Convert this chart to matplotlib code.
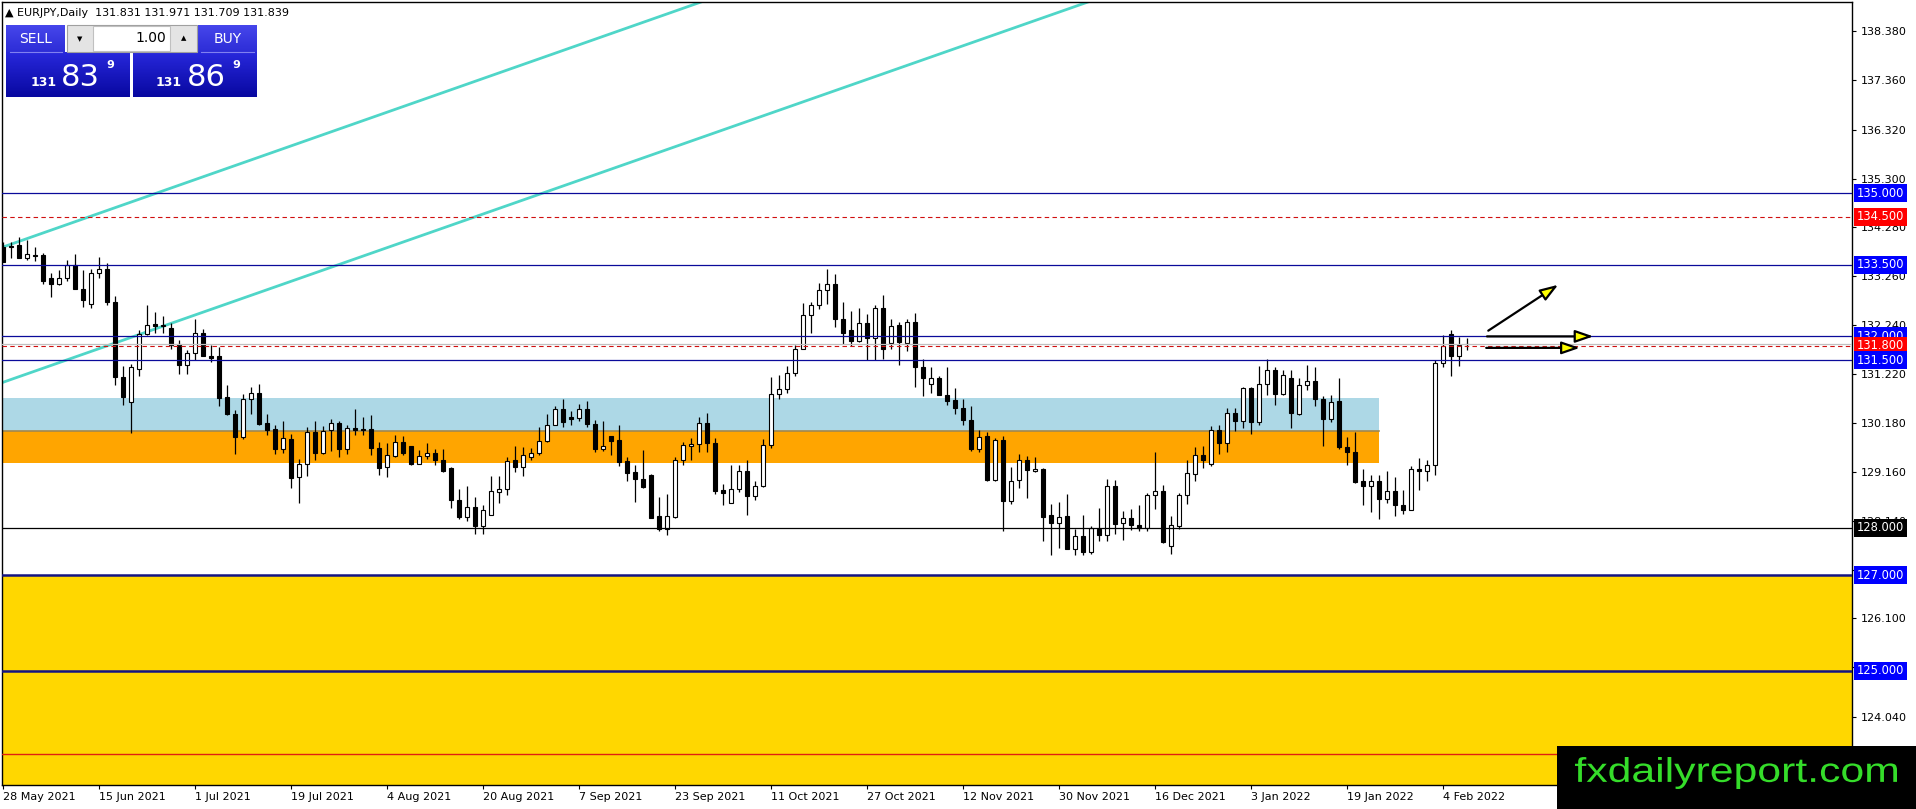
import numpy as np
import pandas as pd
import matplotlib
matplotlib.use("Agg")
import matplotlib.pyplot as plt
from matplotlib.patches import Rectangle, PathPatch
from matplotlib.textpath import TextPath
from matplotlib.font_manager import FontProperties
from matplotlib.transforms import Affine2D, blended_transform_factory

# EURJPY daily candles (28 May 2021 .. 9 Feb 2022)
opens = [133.87, 133.88, 133.92, 133.63, 133.71, 133.70, 133.23, 133.10, 133.23, 133.49,
         133.00, 132.68, 133.33, 133.42, 132.72, 131.15, 130.63, 131.32, 132.04, 132.25,
         132.22, 132.18, 131.85, 131.41, 131.66, 132.08, 131.58, 131.58, 130.73, 130.38,
         129.89, 130.70, 130.82, 130.19, 130.07, 129.65, 129.86, 129.06, 129.34, 130.01,
         129.57, 130.05, 130.19, 129.65, 130.08, 130.07, 130.07, 129.67, 129.27, 129.50,
         129.80, 129.70, 129.34, 129.50, 129.56, 129.42, 129.25, 128.57, 128.22, 128.44,
         128.03, 128.27, 128.74, 128.81, 129.41, 129.27, 129.48, 129.56, 129.81, 130.15,
         130.49, 130.31, 130.30, 130.49, 130.17, 129.64, 129.91, 129.83, 129.39, 129.16,
         129.01, 129.11, 128.24, 127.98, 128.22, 129.42, 129.71, 129.74, 130.19, 129.76,
         128.78, 128.52, 128.81, 129.18, 128.67, 128.87, 129.73, 130.80, 130.91, 131.24,
         131.74, 132.44, 132.65, 132.98, 133.10, 132.37, 132.13, 131.90, 132.29, 131.97,
         132.60, 131.87, 132.23, 131.87, 132.31, 131.35, 131.01, 131.12, 130.78, 130.66,
         130.51, 130.26, 129.65, 129.91, 129.00, 129.84, 128.55, 129.00, 129.42, 129.18,
         129.23, 128.26, 128.10, 128.24, 127.56, 127.82, 127.49, 127.98, 127.85, 128.86,
         128.10, 128.21, 128.06, 127.99, 128.69, 128.76, 127.61, 128.03, 128.69, 129.13,
         129.51, 129.34, 130.05, 129.76, 130.40, 130.23, 130.93, 130.21, 131.01, 131.29,
         130.80, 131.14, 130.38, 130.99, 131.07, 130.70, 130.28, 130.65, 129.69, 129.59,
         128.97, 128.86, 128.97, 128.60, 128.76, 128.48, 128.37, 129.23, 129.19, 129.30,
         131.45, 132.06, 131.60, 131.831]
highs = [133.97, 133.97, 134.09, 134.02, 133.88, 133.75, 133.33, 133.38, 133.59, 133.72,
         133.38, 133.40, 133.66, 133.54, 132.84, 131.39, 131.43, 132.13, 132.65, 132.52,
         132.43, 132.28, 131.92, 131.71, 132.37, 132.16, 131.81, 131.78, 130.98, 130.47,
         130.80, 130.94, 131.01, 130.37, 130.14, 130.22, 129.96, 129.43, 130.10, 130.23,
         130.12, 130.28, 130.22, 130.14, 130.49, 130.31, 130.36, 129.79, 129.76, 129.94,
         129.92, 129.71, 129.62, 129.76, 129.64, 129.64, 129.27, 128.80, 128.88, 128.64,
         128.47, 129.07, 129.07, 129.48, 129.71, 129.69, 129.67, 130.10, 130.38, 130.54,
         130.68, 130.43, 130.59, 130.64, 130.26, 130.22, 129.92, 130.14, 129.48, 129.30,
         129.62, 129.12, 128.64, 128.70, 129.48, 129.79, 129.87, 130.31, 130.40, 129.88,
         128.92, 129.32, 129.30, 129.42, 128.97, 129.85, 131.16, 131.20, 131.38, 131.81,
         132.70, 132.72, 133.12, 133.42, 133.31, 132.73, 132.54, 132.60, 132.47, 132.65,
         132.86, 132.37, 132.31, 132.36, 132.50, 131.52, 131.36, 131.18, 131.35, 130.92,
         130.70, 130.54, 130.05, 130.01, 129.87, 129.92, 129.27, 129.53, 129.49, 129.48,
         129.25, 128.49, 128.53, 128.71, 127.98, 128.27, 128.03, 128.40, 129.02, 128.99,
         128.35, 128.39, 128.48, 128.72, 129.58, 128.90, 128.24, 128.72, 129.42, 129.69,
         129.71, 130.12, 130.15, 130.50, 130.51, 130.95, 130.94, 131.39, 131.53, 131.35,
         131.29, 131.29, 131.13, 131.41, 131.37, 130.75, 130.77, 131.13, 129.89, 130.01,
         129.23, 129.09, 129.09, 129.18, 129.05, 128.78, 129.29, 129.46, 129.41, 131.50,
         132.02, 132.13, 131.99, 131.971]
lows = [133.55, 133.63, 133.63, 133.59, 133.58, 133.10, 132.82, 133.08, 133.16, 132.99,
        132.61, 132.59, 133.23, 132.65, 130.98, 130.56, 129.98, 131.17, 132.02, 132.07,
        132.07, 131.73, 131.21, 131.21, 131.50, 131.59, 131.46, 130.54, 130.35, 129.53,
        129.86, 130.38, 130.15, 129.94, 129.55, 129.57, 128.83, 128.52, 129.08, 129.41,
        129.53, 129.60, 129.48, 129.55, 129.94, 129.94, 129.51, 129.09, 129.06, 129.48,
        129.51, 129.32, 129.33, 129.44, 129.30, 129.16, 128.40, 128.17, 128.13, 127.87,
        127.87, 128.26, 128.52, 128.69, 129.16, 129.08, 129.42, 129.51, 129.79, 130.14,
        130.10, 130.15, 130.22, 130.10, 129.58, 129.60, 129.51, 129.29, 128.97, 128.53,
        128.83, 128.20, 127.92, 127.85, 128.21, 129.32, 129.41, 129.58, 129.59, 128.71,
        128.47, 128.51, 128.75, 128.27, 128.57, 128.85, 129.66, 130.68, 130.82, 131.17,
        131.73, 132.08, 132.57, 132.68, 132.20, 131.85, 131.80, 131.88, 131.50, 131.50,
        131.53, 131.73, 131.41, 131.69, 130.94, 130.75, 130.82, 130.77, 130.57, 130.38,
        130.15, 129.60, 129.58, 128.97, 128.97, 127.92, 128.50, 128.83, 128.62, 129.16,
        127.73, 127.43, 127.57, 127.55, 127.43, 127.43, 127.45, 127.73, 127.73, 127.87,
        127.75, 127.94, 127.92, 127.92, 128.38, 127.68, 127.45, 127.98, 128.50, 128.97,
        129.25, 129.29, 129.53, 129.58, 130.03, 130.09, 129.96, 130.14, 130.77, 130.56,
        130.77, 130.08, 130.35, 130.87, 130.54, 129.71, 130.21, 129.64, 129.32, 128.94,
        128.48, 128.33, 128.17, 128.52, 128.24, 128.29, 128.37, 128.79, 128.97, 129.11,
        131.36, 131.18, 131.39, 131.709]
closes = [133.56, 133.90, 133.63, 133.72, 133.69, 133.16, 133.10, 133.23, 133.49, 132.99,
          132.77, 133.33, 133.42, 132.72, 131.15, 130.73, 131.35, 132.06, 132.24, 132.22,
          132.23, 131.81, 131.41, 131.66, 132.08, 131.60, 131.55, 130.71, 130.37, 129.89,
          130.70, 130.82, 130.17, 130.05, 129.65, 129.87, 129.04, 129.34, 130.00, 129.57,
          130.03, 130.19, 129.65, 130.08, 130.05, 130.04, 129.66, 129.25, 129.51, 129.79,
          129.56, 129.34, 129.50, 129.56, 129.41, 129.18, 128.58, 128.22, 128.43, 128.03,
          128.36, 128.76, 128.81, 129.39, 129.27, 129.51, 129.57, 129.81, 130.15, 130.49,
          130.21, 130.28, 130.49, 130.16, 129.64, 129.71, 129.81, 129.37, 129.14, 129.01,
          128.85, 128.20, 127.98, 128.24, 129.42, 129.72, 129.75, 130.19, 129.76, 128.77,
          128.73, 128.81, 129.18, 128.66, 128.87, 129.73, 130.80, 130.91, 131.24, 131.74,
          132.45, 132.65, 132.98, 133.10, 132.37, 132.08, 131.90, 132.29, 131.97, 132.60,
          131.74, 132.22, 131.88, 132.31, 131.35, 131.12, 131.12, 130.77, 130.65, 130.50,
          130.26, 129.64, 129.89, 128.99, 129.84, 128.55, 128.97, 129.42, 129.20, 129.23,
          128.22, 128.10, 128.22, 127.56, 127.82, 127.50, 127.99, 127.85, 128.86, 128.08,
          128.21, 128.06, 127.99, 128.69, 128.76, 127.70, 128.05, 128.69, 129.15, 129.51,
          129.41, 130.05, 129.76, 130.40, 130.23, 130.93, 130.21, 131.01, 131.29, 130.80,
          131.20, 130.40, 130.99, 131.07, 130.70, 130.28, 130.63, 129.69, 129.58, 128.95,
          128.87, 128.97, 128.60, 128.76, 128.48, 128.37, 129.23, 129.19, 129.30, 131.45,
          131.80, 131.60, 131.83, 131.839]

start_date = "2021-05-28"
label_step = 12

# horizontal levels
blue_levels = [135.0, 133.5, 132.0, 131.5]
thick_levels = [127.0, 125.0]
red_dashed = [134.5, 131.8]
black_level = 128.0
bid_price = 131.839
bottom_red = 123.26
tag_levels = [135.0, 134.5, 133.5, 132.0, 131.8, 131.5, 128.0, 127.0, 125.0]
tag_colors = ["#0000ff", "#ff0000", "#0000ff", "#0000ff", "#ff0000", "#0000ff", "#000000", "#0000ff", "#0000ff"]

# zones
zone_end = 171.97
blue_zone = (130.02, 130.71)
orange_zone = (129.35, 130.02)
yellow_top = 127.0

# channel lines (bar index, price)
upper_line = [(0, 133.87), (80, 138.57)]
lower_line = [(0, 131.04), (60, 134.56)]

# arrows drawn on the chart: (x0, y0, x1, y1) in bar index / price
arrows = [(185.66, 132.12, 194.4, 133.08),
          (185.5, 132.0, 198.8, 132.0),
          (185.4, 131.76, 197.1, 131.76)]

price_ticks = [138.38, 137.36, 136.32, 135.30, 134.28, 133.26, 132.24, 131.22,
               130.18, 129.16, 128.14, 127.12, 126.10, 125.08, 124.04]

W, H = 1916, 809
fig = plt.figure(figsize=(W / 100, H / 100), dpi=100)
fig.patch.set_facecolor("white")
ax = fig.add_axes([2 / W, 1 - 785 / H, 1850 / W, 783 / H])
ax.set_facecolor("white")

n = len(opens)
idx = np.arange(n)
o = np.array(opens); c = np.array(closes)
hi = np.array(highs); lo = np.array(lows)

# zones
ax.axhspan(110, yellow_top, color="#ffd700", lw=0, zorder=0.5)
ax.add_patch(Rectangle((-10, blue_zone[0]), zone_end + 10, blue_zone[1] - blue_zone[0],
                       color="#add8e6", lw=0, zorder=0.6))
ax.add_patch(Rectangle((-10, orange_zone[0]), zone_end + 10, orange_zone[1] - orange_zone[0],
                       color="#ffa500", lw=0, zorder=0.6))
ax.plot([-10, zone_end], [blue_zone[0]] * 2, color="#a08850", lw=1.2, zorder=0.7)

# channel
for p1, p2 in (upper_line, lower_line):
    ax.axline(p1, p2, color="#4fd6c8", lw=2.0, zorder=2)

# candles
ax.vlines(idx, lo, hi, color="black", lw=0.9, zorder=3)
up = c >= o
body_lo = np.minimum(o, c)
body_h = np.maximum(np.abs(c - o), 0.008)
ax.bar(idx[up], body_h[up], bottom=body_lo[up], width=0.62, color="white",
       edgecolor="black", lw=0.8, zorder=4)
ax.bar(idx[~up], body_h[~up], bottom=body_lo[~up], width=0.62, color="black",
       edgecolor="black", lw=0.8, zorder=4)

# levels
ax.axhline(bid_price, color="#c0c0c0", lw=0.9, zorder=5)
for lv in blue_levels:
    ax.axhline(lv, color="#0a0a9a", lw=0.9, zorder=5)
for lv in thick_levels:
    ax.axhline(lv, color="#141482", lw=1.8, zorder=5)
for lv in red_dashed:
    ax.axhline(lv, color="#d01010", lw=0.8, ls=(0, (4, 3)), zorder=5)
ax.axhline(black_level, color="black", lw=0.9, zorder=5)
ax.axhline(bottom_red, color="#e02010", lw=1.0, zorder=5)

# arrows
for x0, y0, x1, y1 in arrows:
    ax.annotate("", xy=(x1, y1), xytext=(x0, y0), zorder=6,
                arrowprops=dict(arrowstyle="-|>,head_length=1.1,head_width=0.38",
                                fc="#ffff00", ec="black", lw=1.6,
                                shrinkA=0, shrinkB=0))

ax.set_xlim(-0.125, 231.125)
ax.set_ylim(122.615, 138.996)

# axes and ticks
dates = pd.bdate_range(start_date, periods=n)
tick_idx = idx[::label_step]
ax.set_xticks(tick_idx)
ax.set_xticklabels([f"{d.day} {d.strftime('%b %Y')}" for d in dates[tick_idx]], ha="left")
ax.tick_params(axis="x", direction="out", length=3, width=0.8, pad=2, labelsize=8)
ax.yaxis.tick_right()
ax.set_yticks(price_ticks)
ax.set_yticklabels([f"{v:.3f}" for v in price_ticks])
ax.tick_params(axis="y", direction="out", length=3, width=0.8, pad=3, labelsize=8)
for s in ax.spines.values():
    s.set_color("black")
    s.set_linewidth(1)

tr = blended_transform_factory(ax.transAxes, ax.transData)
for lv, col in zip(tag_levels, tag_colors):
    ax.text(1.0 + 5 / 1850, lv, f"{lv:.3f}", transform=tr, color="white", fontsize=8.3,
            va="center", ha="left", clip_on=False, zorder=7,
            bbox=dict(boxstyle="square,pad=0.22", fc=col, ec="none"))

# overlay in pixel coordinates for the terminal widgets
ov = fig.add_axes([0, 0, 1, 1], zorder=10)
ov.set_axis_off()
ov.set_autoscale_on(False)
ov.set_xlim(0, W)
ov.set_ylim(H, 0)


def grad(x0, x1, y0, y1, top, bot):
    t = np.linspace(0, 1, 64)[:, None, None]
    img = np.array(top)[None, None, :] * (1 - t) + np.array(bot)[None, None, :] * t
    ov.imshow(img / 255.0, extent=(x0, x1, y1, y0), aspect="auto", zorder=1,
              interpolation="bilinear")


ov.text(5, 13, "▲ EURJPY,Daily  131.831 131.971 131.709 131.839", fontsize=8,
        va="center", ha="left", color="black")

grad(6, 65, 25, 52, (70, 70, 235), (45, 45, 215))
grad(198, 257, 25, 52, (70, 70, 235), (45, 45, 215))
grad(6, 130, 52, 97, (40, 40, 220), (8, 8, 160))
grad(133, 257, 52, 97, (40, 40, 220), (8, 8, 160))
ov.plot([10, 62], [52, 52], color="#8080f0", lw=0.8, zorder=2)
ov.plot([201, 254], [52, 52], color="#8080f0", lw=0.8, zorder=2)
ov.add_patch(Rectangle((67, 25), 130, 27, fc="#e4e4e4", ec="#a0a0a0", lw=0.8, zorder=1))
ov.add_patch(Rectangle((93, 26), 77, 25, fc="white", ec="#c0c0c0", lw=0.8, zorder=2))
ov.text(36, 39, "SELL", color="white", fontsize=10, ha="center", va="center", zorder=3)
ov.text(228, 39, "BUY", color="white", fontsize=10, ha="center", va="center", zorder=3)
ov.text(166, 38, "1.00", color="black", fontsize=10, ha="right", va="center", zorder=3)
ov.text(80, 39, "▼", color="black", fontsize=5, ha="center", va="center", zorder=3)
ov.text(184, 38, "▲", color="black", fontsize=5, ha="center", va="center", zorder=3)

for x_small, x_big, x_sup, big in [(31, 61, 106, "83"), (156, 187, 232, "86")]:
    ov.text(x_small, 86, "131", color="white", fontsize=9, weight="bold", ha="left",
            va="baseline", zorder=3)
    ov.text(x_big, 86, big, color="white", fontsize=22, ha="left", va="baseline", zorder=3)
    ov.text(x_sup, 60, "9", color="white", fontsize=8, weight="bold", ha="left",
            va="top", zorder=3)

# watermark banner
ov.add_patch(Rectangle((1557, 746), W - 1557, H - 746, fc="black", ec="none", zorder=3))
tp = TextPath((0, 0), "fxdailyreport.com", size=1, prop=FontProperties(family="Liberation Sans"))
bb = tp.get_extents()
sx = 322 / bb.width
sy = 32 / bb.height
t = Affine2D().translate(-bb.x0, -bb.y1).scale(sx, -sy).translate(1575, 757) + ov.transData
ov.add_patch(PathPatch(tp, transform=t, fc="#35dd2a", ec="none", zorder=4, clip_on=False))

fig.savefig("out.png", dpi=100)
